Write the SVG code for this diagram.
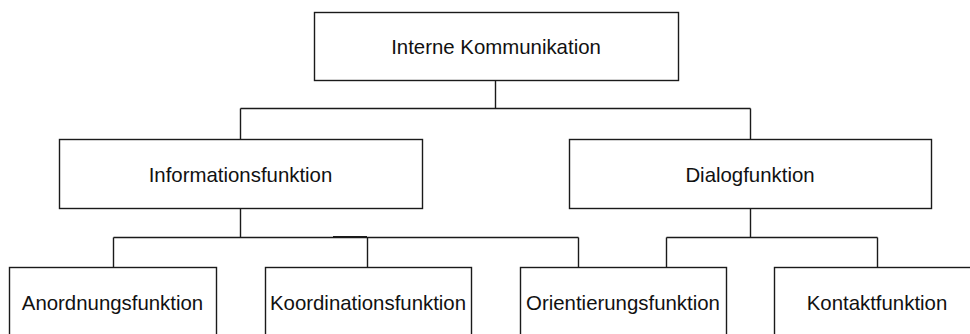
<svg xmlns="http://www.w3.org/2000/svg" width="970" height="334" viewBox="0 0 970 334">
<style>
.box{fill:#fff;stroke:#1a1a1a;stroke-width:1.4}
.lbl{font-family:"Liberation Sans",Arial,Helvetica,sans-serif;font-size:20.4px;fill:#111;text-anchor:middle}
.conn{fill:none;stroke:#1a1a1a;stroke-width:1.4}
</style>
<rect width="970" height="334" fill="#fff"/>
<g id="connectors" class="conn">
<path d="M495.5,80 V108.5 M240.5,108.5 H750.5 M240.5,108.5 V139 M750.5,108.5 V139"/>
<path d="M240.5,208 V237.5 M113.5,237.5 H578.5 M113.5,237.5 V267 M367.5,237.5 V267 M578.5,237.5 V267"/>
<path d="M333,236.5 H367" stroke-width="1.2"/>
<path d="M750.5,208 V237.5 M666.5,237.5 H877.5 M666.5,237.5 V267 M877.5,237.5 V267"/>
</g>
<g id="node-interne">
<rect class="box" x="314.5" y="12.5" width="364" height="68"/>
<text class="lbl" x="496" y="54">Interne Kommunikation</text>
</g>
<g id="node-information">
<rect class="box" x="59.5" y="139.5" width="363" height="69"/>
<text class="lbl" x="240.5" y="181.5">Informationsfunktion</text>
</g>
<g id="node-dialog">
<rect class="box" x="569.5" y="139.5" width="362" height="69"/>
<text class="lbl" x="750" y="181.5">Dialogfunktion</text>
</g>
<g id="node-anordnung">
<rect class="box" x="9.5" y="267.5" width="207" height="84"/>
<text class="lbl" x="112.5" y="309.5">Anordnungsfunktion</text>
</g>
<g id="node-koordination">
<rect class="box" x="265.5" y="267.5" width="206" height="84"/>
<text class="lbl" x="368" y="309.5">Koordinationsfunktion</text>
</g>
<g id="node-orientierung">
<rect class="box" x="520.5" y="267.5" width="206" height="84"/>
<text class="lbl" x="623" y="309.5">Orientierungsfunktion</text>
</g>
<g id="node-kontakt">
<rect class="box" x="774.5" y="267.5" width="206" height="84"/>
<text class="lbl" x="877" y="309.5">Kontaktfunktion</text>
</g>
</svg>
